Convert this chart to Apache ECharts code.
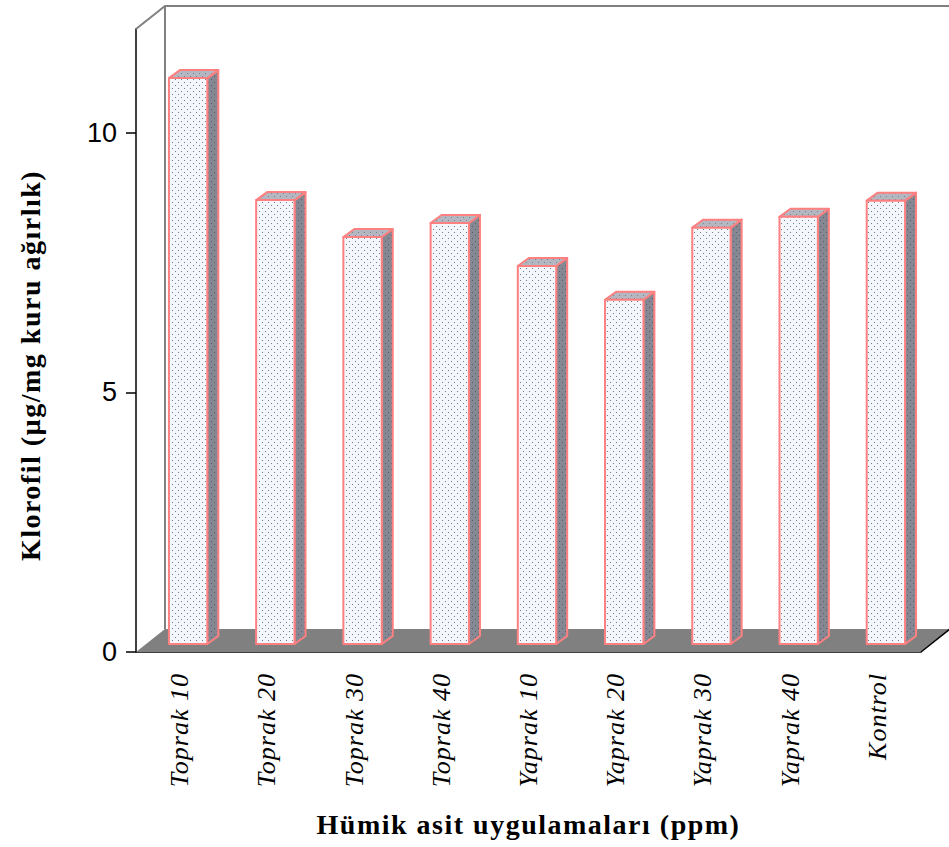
<!DOCTYPE html>
<html>
<head>
<meta charset="utf-8">
<script src="https://cdn.jsdelivr.net/npm/echarts@6/dist/echarts.min.js"></script>
<style>
  html, body { margin: 0; padding: 0; background: #ffffff; }
  #chart { width: 949px; height: 847px; }
  /* spaced lettering for the category labels and the axis titles */
  #chart text[style*="italic"], #chart text[font-style="italic"] { letter-spacing: 1px; }
  #chart text[style*="bold"], #chart text[font-weight="bold"] { letter-spacing: 1.5px; }
</style>
</head>
<body>
<div id="chart"></div>
<script>
// Humic acid treatments and measured chlorophyll content
const categories = ['Toprak 10', 'Toprak 20', 'Toprak 30', 'Toprak 40',
                    'Yaprak 10', 'Yaprak 20', 'Yaprak 30', 'Yaprak 40', 'Kontrol'];
const chlorophyll = [10.9, 8.55, 7.84, 8.11, 7.28, 6.63, 8.02, 8.23, 8.54];
const yTickValues = [0, 5, 10];
const yMax = 12;

// pseudo-3D geometry (pixels)
const WALL_DX = 29, WALL_DY = -23;   // full depth of the floor / back wall
const BAR_OX = 8.5, BAR_OY = -8;     // bar front face sits part-way into the depth
const BAR_DX = 11, BAR_DY = -8;      // depth of each bar
const BAR_RATIO = 0.44;

function dotTile(bg, dot) {
  const c = document.createElement('canvas');
  c.width = 6; c.height = 6;
  const g = c.getContext('2d');
  g.fillStyle = bg; g.fillRect(0, 0, 6, 6);
  g.fillStyle = dot;
  g.fillRect(1, 1, 1, 1);
  g.fillRect(4, 4, 1, 1);
  return { image: c, repeat: 'repeat' };
}
const frontFill = dotTile('#f3f6fb', '#6f7b94');
const sideFill = dotTile('#858892', '#5a5d66');
const topFill = dotTile('#b3b7c1', '#7c808b');
const edgeColor = '#ff8080';

const chart = echarts.init(document.getElementById('chart'), null, { renderer: 'svg' });

chart.setOption({
  animation: false,
  backgroundColor: '#ffffff',
  grid: { left: 136, right: 28, top: 29, bottom: 195 },
  xAxis: {
    type: 'category',
    data: categories,
    name: 'Hümik asit uygulamaları (ppm)',
    nameLocation: 'middle',
    nameGap: 172,
    nameTextStyle: {
      fontFamily: 'Liberation Serif', fontWeight: 'bold', fontSize: 28,
      color: '#000', verticalAlign: 'middle'
    },
    axisLine: { lineStyle: { color: '#000', width: 1.5 } },
    axisTick: { length: 11, interval: 0, lineStyle: { color: '#000', width: 1.5 } },
    axisLabel: {
      interval: 0, rotate: 90, margin: 21,
      fontFamily: 'Liberation Serif', fontStyle: 'italic', fontSize: 26, color: '#000'
    },
    splitLine: { show: false }
  },
  yAxis: {
    type: 'value',
    min: 0, max: yMax,
    name: 'Klorofil (µg/mg kuru ağırlık)',
    nameLocation: 'middle',
    nameRotate: 90,
    nameGap: 106,
    nameTextStyle: {
      fontFamily: 'Liberation Serif', fontWeight: 'bold', fontSize: 28,
      color: '#000', verticalAlign: 'middle',
      padding: [0, 50, 0, 0]
    },
    axisLine: { show: true, lineStyle: { color: '#000', width: 1.5 } },
    axisTick: { show: true, length: 10, customValues: yTickValues, lineStyle: { color: '#000', width: 1.5 } },
    axisLabel: {
      customValues: yTickValues, margin: 19,
      fontFamily: 'Liberation Sans', fontSize: 27, color: '#000'
    },
    splitLine: { show: false }
  },
  series: [
    {
      // floor and back wall
      type: 'custom',
      silent: true,
      z: 1,
      data: [[0, 0]],
      renderItem: function (params) {
        const cs = params.coordSys;
        const L = cs.x, R = cs.x + cs.width, T = cs.y, B = cs.y + cs.height;
        return {
          type: 'group',
          children: [
            {
              type: 'polygon',
              shape: { points: [[L, B], [R, B], [R + WALL_DX, B + WALL_DY], [L + WALL_DX, B + WALL_DY]] },
              style: { fill: '#808080', stroke: null }
            },
            {
              type: 'line',
              shape: { x1: R, y1: B, x2: R + WALL_DX, y2: B + WALL_DY },
              style: { stroke: '#000', lineWidth: 1.5 }
            },
            {
              type: 'polyline',
              shape: { points: [[L, T], [L + WALL_DX, T + WALL_DY], [R + WALL_DX, T + WALL_DY]] },
              style: { stroke: '#808080', lineWidth: 2, fill: null }
            },
            {
              type: 'line',
              shape: { x1: L + WALL_DX, y1: T + WALL_DY, x2: L + WALL_DX, y2: B + WALL_DY },
              style: { stroke: '#808080', lineWidth: 2 }
            }
          ]
        };
      }
    },
    {
      // 3D-style bars
      type: 'custom',
      z: 3,
      data: chlorophyll.map((v, i) => [i, v]),
      encode: { x: 0, y: 1 },
      renderItem: function (params, api) {
        const i = api.value(0), v = api.value(1);
        const base = api.coord([i, 0]);
        const top = api.coord([i, v]);
        const w = api.size([1, 0])[0] * BAR_RATIO;
        const xl = base[0] + BAR_OX - w / 2;
        const xr = xl + w;
        const yb = base[1] + BAR_OY;
        const yt = top[1] + BAR_OY;
        const edge = { stroke: edgeColor, lineWidth: 2, lineJoin: 'round' };
        return {
          type: 'group',
          children: [
            {
              type: 'polygon',
              shape: { points: [[xr, yt], [xr + BAR_DX, yt + BAR_DY], [xr + BAR_DX, yb + BAR_DY], [xr, yb]] },
              style: Object.assign({ fill: sideFill }, edge)
            },
            {
              type: 'polygon',
              shape: { points: [[xl, yt], [xl + BAR_DX, yt + BAR_DY], [xr + BAR_DX, yt + BAR_DY], [xr, yt]] },
              style: Object.assign({ fill: topFill }, edge)
            },
            {
              type: 'rect',
              shape: { x: xl, y: yt, width: w, height: yb - yt },
              style: Object.assign({ fill: frontFill }, edge)
            }
          ]
        };
      }
    }
  ]
});
</script>
</body>
</html>
